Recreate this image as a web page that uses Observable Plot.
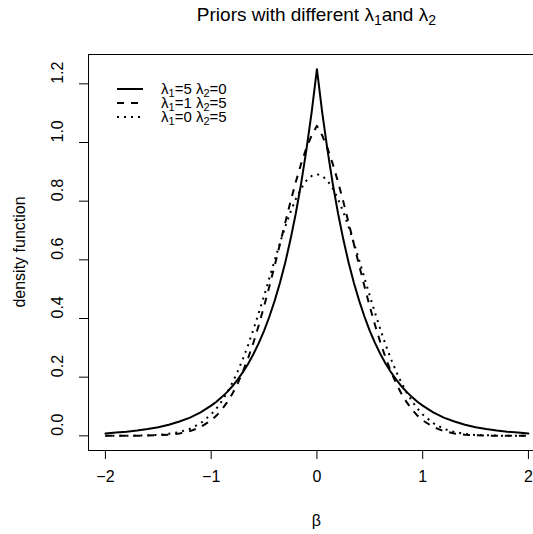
<!DOCTYPE html>
<html><head><meta charset="utf-8">
<script src="https://cdn.jsdelivr.net/npm/d3@7"></script>
<script src="https://cdn.jsdelivr.net/npm/@observablehq/plot@0.6"></script>
<style>html,body{margin:0;padding:0;overflow:hidden;background:#fff} svg{display:block}</style>
</head><body><div id="chart"></div>
<script>
// β grid
const beta = [-2.0,-1.9,-1.8,-1.7,-1.6,-1.5,-1.4,-1.3,-1.2,-1.1,-1.0,-0.95,-0.9,-0.85,-0.8,-0.75,-0.7,-0.65,-0.6,-0.55,-0.5,-0.45,-0.4,-0.35,-0.3,-0.25,-0.2,-0.15,-0.1,-0.05,
  0,
  0.05,0.1,0.15,0.2,0.25,0.3,0.35,0.4,0.45,0.5,0.55,0.6,0.65,0.7,0.75,0.8,0.85,0.9,0.95,1.0,1.1,1.2,1.3,1.4,1.5,1.6,1.7,1.8,1.9,2.0];
// λ1=5 λ2=0 (solid)
const lasso = [0.008,0.011,0.014,0.018,0.023,0.029,0.038,0.049,0.062,0.080,0.103,0.116,0.132,0.149,0.169,0.192,0.217,0.246,0.279,0.316,0.358,0.406,0.460,0.521,0.590,0.669,0.758,0.859,0.974,1.103,
  1.250,
  1.103,0.974,0.859,0.758,0.669,0.590,0.521,0.460,0.406,0.358,0.316,0.279,0.246,0.217,0.192,0.169,0.149,0.132,0.116,0.103,0.080,0.062,0.049,0.038,0.029,0.023,0.018,0.014,0.011,0.008];
// λ1=1 λ2=5 (dashed)
const elastic = [0.000,0.000,0.000,0.000,0.001,0.002,0.004,0.008,0.016,0.030,0.053,0.069,0.089,0.114,0.143,0.178,0.219,0.266,0.318,0.377,0.441,0.509,0.580,0.653,0.726,0.798,0.865,0.927,0.981,1.024,
  1.057,
  1.024,0.981,0.927,0.865,0.798,0.726,0.653,0.580,0.509,0.441,0.377,0.318,0.266,0.219,0.178,0.143,0.114,0.089,0.069,0.053,0.030,0.016,0.008,0.004,0.002,0.001,0.000,0.000,0.000,0.000];
// λ1=0 λ2=5 (dotted)
const ridge = [0.000,0.000,0.000,0.001,0.002,0.003,0.007,0.013,0.024,0.043,0.073,0.093,0.118,0.147,0.180,0.219,0.262,0.310,0.363,0.419,0.477,0.538,0.598,0.657,0.712,0.763,0.807,0.843,0.870,0.886,
  0.892,
  0.886,0.870,0.843,0.807,0.763,0.712,0.657,0.598,0.538,0.477,0.419,0.363,0.310,0.262,0.219,0.180,0.147,0.118,0.093,0.073,0.043,0.024,0.013,0.007,0.003,0.002,0.001,0.000,0.000,0.000];

const xTicks = [-2,-1,0,1,2];
const xTickLabels = ["\u22122","\u22121","0","1","2"];
const yTicks = [0,0.2,0.4,0.6,0.8,1.0,1.2];
const yTickLabels = ["0.0","0.2","0.4","0.6","0.8","1.0","1.2"];
const legendLabels = [
  [["λ"],["1","sub"],["=5 "],["λ"],["2","sub"],["=0"]],
  [["λ"],["1","sub"],["=1 "],["λ"],["2","sub"],["=5"]],
  [["λ"],["1","sub"],["=0 "],["λ"],["2","sub"],["=5"]]
];
const titleParts = [["Priors with different λ"],["1","sub"],["and λ"],["2","sub"]];
const xLabel = "β";
const yLabel = "density function";

const font = "'Liberation Sans', Arial, Helvetica, sans-serif";
const styles = [
  {dash: null},
  {dash: "7,7"},
  {dash: "2,5"}
];

const rows = beta.map((b, i) => ({beta: b, lasso: lasso[i], elastic: elastic[i], ridge: ridge[i]}));
const xDomain = [-2.16, 2.048];
const yDomain = [-0.05, 1.30];

const plot = Plot.plot({
  width: 533, height: 534,
  marginLeft: 88, marginRight: 0, marginTop: 54, marginBottom: 84,
  style: {fontFamily: font, fontSize: "16px", background: "white", color: "black", overflow: "visible"},
  x: {domain: xDomain},
  y: {domain: yDomain},
  marks: [
    Plot.ruleX([xDomain[0]], {stroke: "black", strokeWidth: 1}),
    Plot.ruleY(yDomain, {stroke: "black", strokeWidth: 1}),
    Plot.axisX(xTicks, {tickSize: 9, tickFormat: () => "", label: null, stroke: "black"}),
    Plot.axisY(yTicks, {tickSize: 9, tickFormat: () => "", label: null, stroke: "black"}),
    Plot.text(xTicks, {x: d => d, frameAnchor: "bottom", dy: 31, text: (d, i) => xTickLabels[i], fill: "black", fontSize: 16}),
    Plot.text(yTicks, {y: d => d, frameAnchor: "left", dx: -31, rotate: -90, text: (d, i) => yTickLabels[i], fill: "black", fontSize: 16}),
    Plot.line(rows, {x: "beta", y: "lasso", stroke: "black", strokeWidth: 2}),
    Plot.line(rows, {x: "beta", y: "elastic", stroke: "black", strokeWidth: 2, strokeDasharray: styles[1].dash, strokeLinecap: "butt"}),
    Plot.line(rows, {x: "beta", y: "ridge", stroke: "black", strokeWidth: 2, strokeDasharray: styles[2].dash, strokeLinecap: "butt"})
  ]
});
document.getElementById("chart").appendChild(plot);

const svg = d3.select(plot);
const xs = plot.scale("x");
const ys = plot.scale("y");
const cx = (xs.apply(xDomain[0]) + xs.apply(-xDomain[0])) / 2;
const cy = (ys.apply(yDomain[0]) + ys.apply(yDomain[1])) / 2;

function addParts(textSel, parts, subSize, shift) {
  let down = false;
  parts.forEach(([t, kind]) => {
    const ts = textSel.append("tspan").text(t);
    if (kind === "sub") {
      ts.attr("font-size", subSize).attr("dy", shift);
      down = true;
    } else if (down) {
      ts.attr("dy", -shift);
      down = false;
    }
  });
}

// title
const title = svg.append("text").attr("x", cx).attr("y", 21).attr("text-anchor", "middle")
  .attr("font-family", font).attr("font-size", 19).attr("fill", "black");
addParts(title, titleParts, 14, 4);

// axis labels
svg.append("text").attr("x", cx).attr("y", 526).attr("text-anchor", "middle")
  .attr("font-family", font).attr("font-size", 16).attr("fill", "black").text(xLabel);
svg.append("text").attr("transform", `translate(19,${cy}) rotate(-90)`).attr("text-anchor", "middle")
  .attr("dominant-baseline", "central")
  .attr("font-family", font).attr("font-size", 16).attr("fill", "black").text(yLabel);

// legend
const lg = svg.append("g").attr("text-anchor", "start");
legendLabels.forEach((parts, i) => {
  const y = 89 + i * 14;
  const ln = lg.append("line").attr("x1", 117).attr("x2", 143).attr("y1", y).attr("y2", y)
    .attr("stroke", "black").attr("stroke-width", 2);
  if (styles[i].dash) ln.attr("stroke-dasharray", styles[i].dash);
  const t = lg.append("text").attr("x", 161).attr("y", y + 4.5).attr("text-anchor", "start")
    .attr("font-family", font).attr("font-size", 15).attr("fill", "black");
  addParts(t, parts, 11, 3);
});
</script>
</body></html>
